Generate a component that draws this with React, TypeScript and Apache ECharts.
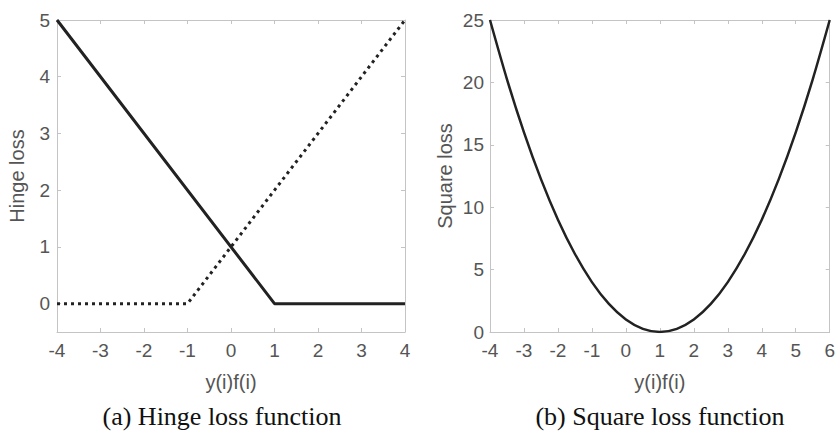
import React, { useEffect, useRef } from "react";
import * as echarts from "echarts";

// Hinge loss (solid) and its mirror (dotted): breakpoints
const hingeX = [-4, 1, 4];
const hingeY = [5, 0, 0];
const mirrorX = [-4, -1, 4];
const mirrorY = [0, 0, 5];
// Square loss read at half steps
const squareX = [-4, -3.5, -3, -2.5, -2, -1.5, -1, -0.5, 0, 0.5, 1, 1.5, 2, 2.5, 3, 3.5, 4, 4.5, 5, 5.5, 6];
const squareY = [25, 20.25, 16, 12.25, 9, 6.25, 4, 2.25, 1, 0.25, 0, 0.25, 1, 2.25, 4, 6.25, 9, 12.25, 16, 20.25, 25];

const hingeXTicks = [-4, -3, -2, -1, 0, 1, 2, 3, 4];
const hingeYTicks = [0, 1, 2, 3, 4, 5];
const squareXTicks = [-4, -3, -2, -1, 0, 1, 2, 3, 4, 5, 6];
const squareYTicks = [0, 5, 10, 15, 20, 25];

const captions = ["(a) Hinge loss function", "(b) Square loss function"];
const xName = "y(i)f(i)";
const yNames = ["Hinge loss", "Square loss"];

const AXIS_COLOR = "#c4c4c4";
const LABEL_COLOR = "#555";
const LINE_COLOR = "#222";
const FONT = "Liberation Sans";
const TICK_SIZE = 19;
const NAME_SIZE = 20;

function zip(xs: number[], ys: number[]) {
  return xs.map((x, i) => [x, ys[i]]);
}

function tickLabel(ticks: number[], margin: number) {
  return {
    customValues: ticks,
    margin,
    formatter: (v: number) => `{t|${v}}`,
    rich: { t: { color: LABEL_COLOR, fontSize: TICK_SIZE, fontFamily: FONT, lineHeight: TICK_SIZE } },
    color: LABEL_COLOR,
    fontSize: TICK_SIZE,
    fontFamily: FONT,
  };
}

function mainX(grid: number, min: number, max: number, ticks: number[]) {
  return {
    type: "value",
    gridIndex: grid,
    min,
    max,
    name: xName,
    nameLocation: "middle",
    nameGap: 40,
    nameTextStyle: { color: LABEL_COLOR, fontSize: NAME_SIZE, fontFamily: FONT },
    axisLine: { show: true, onZero: false, lineStyle: { color: AXIS_COLOR, width: 1 } },
    axisTick: { show: true, inside: true, length: 4, customValues: ticks, lineStyle: { color: AXIS_COLOR } },
    axisLabel: tickLabel(ticks, 9),
    splitLine: { show: false },
  };
}
function topX(grid: number, min: number, max: number, ticks: number[]) {
  return {
    type: "value",
    gridIndex: grid,
    position: "top",
    min,
    max,
    axisLine: { show: true, onZero: false, lineStyle: { color: AXIS_COLOR, width: 1 } },
    axisTick: { show: true, inside: true, length: 4, customValues: ticks, lineStyle: { color: AXIS_COLOR } },
    axisLabel: { show: false },
    splitLine: { show: false },
  };
}
function mainY(grid: number, min: number, max: number, ticks: number[], name: string, gap: number, margin: number) {
  return {
    type: "value",
    gridIndex: grid,
    min,
    max,
    name,
    nameLocation: "middle",
    nameGap: gap,
    nameTextStyle: { color: LABEL_COLOR, fontSize: NAME_SIZE, fontFamily: FONT },
    axisLine: { show: true, onZero: false, lineStyle: { color: AXIS_COLOR, width: 1 } },
    axisTick: { show: true, inside: true, length: 4, customValues: ticks, lineStyle: { color: AXIS_COLOR } },
    axisLabel: tickLabel(ticks, margin),
    splitLine: { show: false },
  };
}
function rightY(grid: number, min: number, max: number, ticks: number[]) {
  return {
    type: "value",
    gridIndex: grid,
    position: "right",
    min,
    max,
    axisLine: { show: true, onZero: false, lineStyle: { color: AXIS_COLOR, width: 1 } },
    axisTick: { show: true, inside: true, length: 4, customValues: ticks, lineStyle: { color: AXIS_COLOR } },
    axisLabel: { show: false },
    splitLine: { show: false },
  };
}

export default function App() {
  const ref = useRef<HTMLDivElement>(null);
  useEffect(() => {
    if (!ref.current) return;
    const chart = echarts.init(ref.current, undefined, { renderer: "svg" });
    chart.setOption({
      animation: false,
      backgroundColor: "#fff",
      grid: [
        { left: 57, top: 20, width: 348, height: 312 },
        { left: 490, top: 20, width: 347, height: 312 },
      ],
      xAxis: [
        mainX(0, -4, 4, hingeXTicks),
        topX(0, -4, 4, hingeXTicks),
        mainX(1, -4, 6, squareXTicks),
        topX(1, -4, 6, squareXTicks),
      ],
      yAxis: [
        mainY(0, -0.5, 5, hingeYTicks, yNames[0], 30, 7),
        rightY(0, -0.5, 5, hingeYTicks),
        mainY(1, 0, 25, squareYTicks, yNames[1], 35, 6),
        rightY(1, 0, 25, squareYTicks),
      ],
      series: [
        {
          type: "line",
          xAxisIndex: 0,
          yAxisIndex: 0,
          data: zip(hingeX, hingeY),
          symbol: "none",
          lineStyle: { color: LINE_COLOR, width: 3 },
        },
        {
          type: "line",
          xAxisIndex: 0,
          yAxisIndex: 0,
          data: zip(mirrorX, mirrorY),
          symbol: "none",
          lineStyle: { color: LINE_COLOR, width: 3, type: [3, 4] },
        },
        {
          type: "line",
          xAxisIndex: 2,
          yAxisIndex: 2,
          data: zip(squareX, squareY),
          symbol: "none",
          smooth: 0.3,
          lineStyle: { color: LINE_COLOR, width: 2.5 },
        },
      ],
      graphic: [
        {
          type: "text",
          x: 222,
          y: 416,
          style: {
            text: captions[0],
            font: '26px "Liberation Serif"',
            fill: "#111",
            textAlign: "center",
            textVerticalAlign: "middle",
          },
        },
        {
          type: "text",
          x: 660,
          y: 416,
          style: {
            text: captions[1],
            font: '26px "Liberation Serif"',
            fill: "#111",
            textAlign: "center",
            textVerticalAlign: "middle",
          },
        },
      ],
    });
    return () => chart.dispose();
  }, []);
  return (
    <div
      ref={ref}
      style={{ position: "fixed", left: 0, top: 0, width: 838, height: 431, background: "#fff" }}
    />
  );
}
